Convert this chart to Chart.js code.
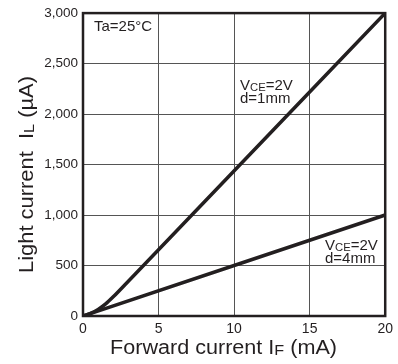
<!DOCTYPE html>
<html>
<head>
<meta charset="utf-8">
<script src="https://cdn.jsdelivr.net/npm/chart.js@4/dist/chart.umd.min.js"></script>
<style>
  html, body { margin: 0; padding: 0; background: #fff; }
  #wrap { width: 398px; height: 364px; }
</style>
</head>
<body>
<div id="wrap"><canvas id="grafico" width="398" height="364"></canvas></div>
<script>
// datos
const corrienteF = [0, 0.5, 1, 1.5, 2, 3, 4, 20];          // mA
const luz1mm = [0, 25, 65, 120, 190, 345, 500, 3000];      // uA, d=1mm
const corrienteF4 = [0, 10, 20];
const luz4mm = [0, 500, 1000];                             // uA, d=4mm
const ticksX = [0, 5, 10, 15, 20];
const ticksY = [0, 500, 1000, 1500, 2000, 2500, 3000];

const FUENTE = '"Liberation Sans", Arial, sans-serif';
const NEGRO = '#231f20';

function puntos(xs, ys) {
  return xs.map((x, i) => ({ x: x, y: ys[i] }));
}

// texto con subindices: partes = [[texto, esSub], ...]
function anchoRico(ctx, partes, tam) {
  let w = 0;
  partes.forEach(p => {
    ctx.font = (p[1] ? tam * 0.75 : tam) + 'px ' + FUENTE;
    w += ctx.measureText(p[0]).width;
  });
  return w;
}

function textoRico(ctx, partes, x, y, tam) {
  partes.forEach(p => {
    ctx.font = (p[1] ? tam * 0.75 : tam) + 'px ' + FUENTE;
    ctx.fillText(p[0], x, y + (p[1] ? 0.5 : 0));
    x += ctx.measureText(p[0]).width;
  });
}

// titulo centrado con ancho fijo
function tituloRico(ctx, partes, cx, cy, tam, ancho, rot) {
  ctx.save();
  ctx.translate(cx, cy);
  if (rot) ctx.rotate(-Math.PI / 2);
  const w = anchoRico(ctx, partes, tam);
  ctx.scale(ancho / w, 1);
  textoRico(ctx, partes, -w / 2, 0, tam);
  ctx.restore();
}

const anotaciones = {
  id: 'anotaciones',
  afterDraw(chart) {
    const ctx = chart.ctx;
    const a = chart.chartArea;
    ctx.save();
    ctx.fillStyle = NEGRO;
    ctx.textAlign = 'left';
    ctx.textBaseline = 'alphabetic';

    // marco
    ctx.strokeStyle = NEGRO;
    ctx.lineWidth = 2.5;
    ctx.strokeRect(a.left, a.top, a.right - a.left, a.bottom - a.top);

    textoRico(ctx, [['Ta=25°C', false]], 94, 30.5, 15);
    textoRico(ctx, [['V', false], ['CE', true], ['=2V', false]], 240, 90, 15);
    textoRico(ctx, [['d=1mm', false]], 240, 102.5, 15);
    textoRico(ctx, [['V', false], ['CE', true], ['=2V', false]], 325, 250, 15);
    textoRico(ctx, [['d=4mm', false]], 325, 262.5, 15);

    tituloRico(ctx, [['Forward current I', false], ['F', true], [' (mA)', false]], 223.5, 354, 20, 227, false);
    tituloRico(ctx, [['Light current  I', false], ['L', true], [' (µA)', false]], 33, 174.5, 20, 197, true);
    ctx.restore();
  }
};

const config = {
  type: 'line',
  data: {
    datasets: [{
      data: puntos(corrienteF, luz1mm),
      borderColor: NEGRO,
      borderWidth: 3.5,
      pointRadius: 0,
      cubicInterpolationMode: 'monotone',
      fill: false
    }, {
      data: puntos(corrienteF4, luz4mm),
      borderColor: NEGRO,
      borderWidth: 3.5,
      pointRadius: 0,
      fill: false
    }]
  },
  options: {
    responsive: false,
    animation: false,
    layout: { padding: { top: 12, right: 12, left: 0, bottom: 0 } },
    plugins: { legend: { display: false }, tooltip: { enabled: false } },
    scales: {
      x: {
        type: 'linear',
        min: 0, max: 20,
        afterBuildTicks: s => { s.ticks = ticksX.map(v => ({ value: v })); },
        afterFit: s => { s.height = 48; },
        grid: { color: '#555', lineWidth: 1, drawTicks: false },
        border: { display: false },
        ticks: {
          padding: 5,
          color: NEGRO,
          font: { family: FUENTE, size: 14 },
          callback: v => v
        }
      },
      y: {
        type: 'linear',
        min: 0, max: 3000,
        afterBuildTicks: s => { s.ticks = ticksY.map(v => ({ value: v })); },
        afterFit: s => { s.width = 83; },
        grid: { color: '#555', lineWidth: 1, drawTicks: false },
        border: { display: false },
        ticks: {
          padding: 5,
          color: NEGRO,
          font: { family: FUENTE, size: 13.5 },
          callback: v => v.toLocaleString('en-US')
        }
      }
    }
  },
  plugins: [anotaciones]
};

new Chart(document.getElementById('grafico').getContext('2d'), config);
</script>
</body>
</html>
